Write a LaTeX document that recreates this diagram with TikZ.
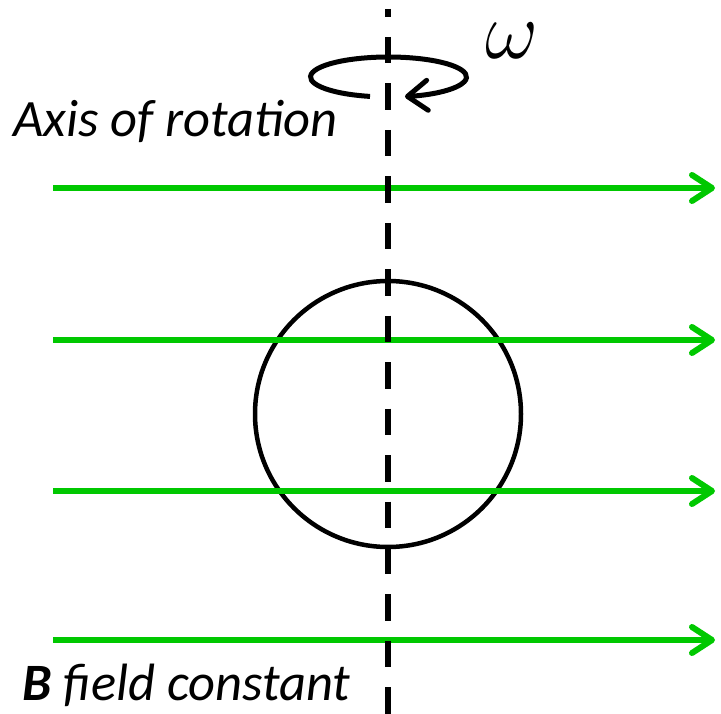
\RequirePackage{fix-cm}
\documentclass[tikz,border=0pt]{standalone}
\usepackage{fontspec}
\setmainfont{Carlito}
\usetikzlibrary{arrows.meta}
\definecolor{fieldgreen}{RGB}{0,200,0}
\tikzset{
  fieldline/.style={draw=fieldgreen, line width=6pt,
    -{Straight Barb[length=20pt,width=26pt,round]}},
  axisline/.style={draw=black, line width=6pt, dash pattern=on 26.5pt off 19.95pt, dash phase=18.45pt},
  loopline/.style={draw=black, line width=4.5pt},
  rotline/.style={draw=black, line width=5pt,
    -{Straight Barb[length=20pt,width=30pt,round]}},
  lbl/.style={anchor=base west, inner sep=0pt, font=\itshape\fontsize{52.5}{60}\selectfont}
}
\begin{document}
\begin{tikzpicture}[x=1pt,y=-1pt]
\useasboundingbox (0,0) rectangle (721,714);
% loop
\node[circle, loopline, minimum size=266pt, inner sep=0pt] (loop) at (388,414) {};
% field lines
\foreach \i/\y in {1/188,2/340,3/491,4/640}{
  \coordinate (fs\i) at (53,\y);
  \coordinate (fe\i) at (715,\y);
  \draw[fieldline] (fs\i) -- (fe\i);
}
% axis
\coordinate (axtop) at (388,9);
\coordinate (axbot) at (388,714);
\draw[axisline] (axtop) -- (axbot);
% rotation arrow
\coordinate (rc) at (388.5,77);
\draw[rotline] ([shift={(103.7:78 and 20)}]rc) arc[start angle=103.7, end angle=437.8, x radius=78, y radius=20];
% labels
\node[font=\fontsize{82}{90}\selectfont, inner sep=0pt] (omega) at (512,41) {$\omega$};
\node[lbl] (axislbl) at (13,137) {Axis of rotation};
\node[lbl] (blbl) at (22,700) {\textbf{B} field constant};
\end{tikzpicture}
\end{document}
